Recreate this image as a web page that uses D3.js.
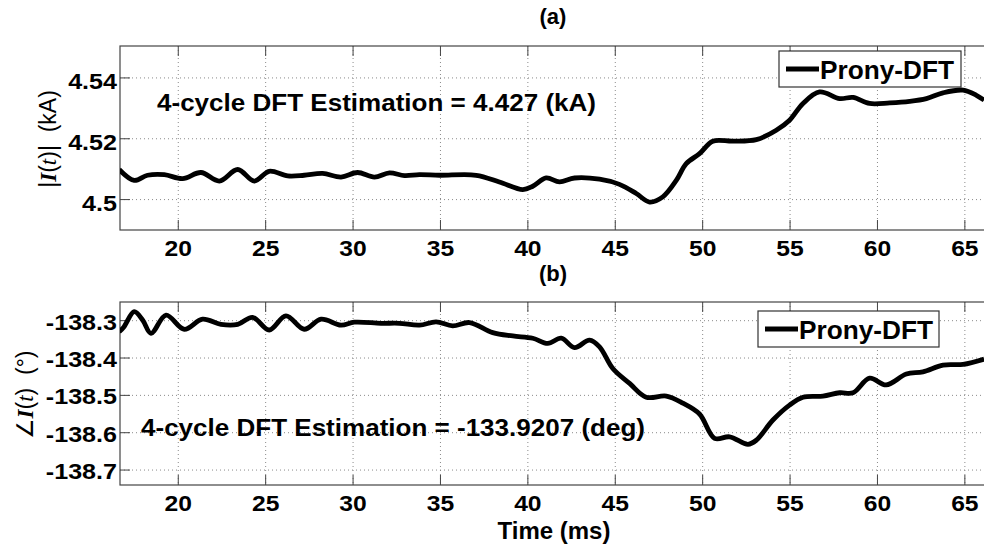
<!DOCTYPE html>
<html>
<head>
<meta charset="utf-8">
<script src="https://cdn.jsdelivr.net/npm/d3@7"></script>
<style>
  body { margin: 0; background: #fff; overflow: hidden; }
  svg { display: block; font-family: "Liberation Sans", Arial, sans-serif; }
  .tick-lbl { font-weight: bold; font-size: 22px; fill: #000; }
</style>
</head>
<body>
<div id="chart"></div>
<script>
// Time axis (ms), shared by both panels
const xTicks = [20, 25, 30, 35, 40, 45, 50, 55, 60, 65];

// (a) magnitude |I(t)| in kA
const timeA = [16.62, 17.48, 18.24, 19.2, 20.25, 21.3, 22.35, 23.4, 24.35, 25.2, 26.26, 27.2, 28.26, 29.31,
  30.26, 31.22, 32.08, 32.94, 33.8, 34.94, 37.04, 38.37, 39.71, 40.28, 41.05, 41.81, 42.67, 44.1, 45.24,
  46.2, 46.96, 47.72, 48.49, 49.06, 49.82, 50.58, 51.73, 53.07, 54.21, 54.97, 55.74, 56.69, 57.84, 58.6,
  59.55, 60.7, 61.84, 62.8, 63.75, 64.9, 65.66, 66.1];
const magA = [4.5099, 4.5063, 4.508, 4.5082, 4.5069, 4.5089, 4.5061, 4.5099, 4.5061, 4.5093, 4.5078, 4.508, 4.5086, 4.5074,
  4.5089, 4.5074, 4.5088, 4.5079, 4.5082, 4.508, 4.508, 4.5058, 4.5033, 4.5044, 4.5071, 4.5058, 4.5071, 4.5067, 4.505,
  4.502, 4.4992, 4.5009, 4.5063, 4.5118, 4.5151, 4.5192, 4.5192, 4.5197, 4.5228, 4.5261, 4.5316, 4.5354, 4.5332, 4.5336,
  4.5316, 4.5318, 4.5323, 4.5332, 4.5351, 4.536, 4.5343, 4.5327];
const yTicksA = [4.5, 4.52, 4.54];
const yTickLabelsA = ["4.5", "4.52", "4.54"];

// (b) phase angle in degrees
const timeB = [16.62, 16.9, 17.48, 17.96, 18.44, 19.3, 20.34, 21.39, 22.44, 23.4, 24.25, 25.2, 26.16, 27.2, 28.17,
  29.31, 30.07, 31.6, 32.65, 33.8, 34.75, 35.7, 36.66, 37.99, 39.14, 40.28, 41.14, 41.91, 42.67, 43.53, 44.1,
  44.86, 45.82, 46.77, 47.92, 48.87, 49.82, 50.68, 51.54, 52.59, 53.07, 54.02, 54.97, 55.74, 56.88, 57.84, 58.6,
  59.55, 60.5, 61.65, 62.6, 63.75, 64.9, 66.1];
const angB = [-138.33, -138.316, -138.276, -138.298, -138.334, -138.285, -138.323, -138.296, -138.31, -138.31, -138.291,
  -138.325, -138.287, -138.323, -138.296, -138.312, -138.304, -138.307, -138.307, -138.312, -138.303, -138.314, -138.305,
  -138.332, -138.341, -138.347, -138.361, -138.347, -138.372, -138.352, -138.37, -138.428, -138.468, -138.505, -138.502,
  -138.521, -138.55, -138.615, -138.611, -138.631, -138.62, -138.566, -138.526, -138.505, -138.502, -138.493, -138.493,
  -138.454, -138.472, -138.443, -138.437, -138.419, -138.417, -138.403];
const yTicksB = [-138.7, -138.6, -138.5, -138.4, -138.3];

const width = 984, height = 546;
const left = 120, right = 994;

const svg = d3.select("#chart").append("svg")
  .attr("width", width)
  .attr("height", height);

const x = d3.scaleLinear().domain([50 / 3, 200 / 3]).range([left, right]);

// stretch bold labels a bit wider, like the source picture
function widen(sel, k) {
  sel.each(function () {
    const w = this.getComputedTextLength();
    d3.select(this).attr("textLength", w * k).attr("lengthAdjust", "spacingAndGlyphs");
  });
}

function drawPanel(cfg) {
  const y = d3.scaleLinear().domain(cfg.yDomain).range([cfg.bottom, cfg.top]);
  const g = svg.append("g");

  // dotted grid
  g.selectAll(".gx").data(xTicks).enter().append("line")
    .attr("x1", d => x(d)).attr("x2", d => x(d))
    .attr("y1", cfg.top).attr("y2", cfg.bottom)
    .attr("stroke", "#8a8a8a").attr("stroke-width", 1)
    .attr("stroke-dasharray", "1,3");
  g.selectAll(".gy").data(cfg.yTicks).enter().append("line")
    .attr("x1", left).attr("x2", right)
    .attr("y1", d => y(d)).attr("y2", d => y(d))
    .attr("stroke", "#8a8a8a").attr("stroke-width", 1)
    .attr("stroke-dasharray", "1,3");

  // inward ticks on all four sides
  const tl = 10;
  g.selectAll(".tb").data(xTicks).enter().append("line")
    .attr("x1", d => x(d)).attr("x2", d => x(d))
    .attr("y1", cfg.bottom).attr("y2", cfg.bottom - tl)
    .attr("stroke", "#444");
  g.selectAll(".tt").data(xTicks).enter().append("line")
    .attr("x1", d => x(d)).attr("x2", d => x(d))
    .attr("y1", cfg.top).attr("y2", cfg.top + tl)
    .attr("stroke", "#444");
  g.selectAll(".tl").data(cfg.yTicks).enter().append("line")
    .attr("x1", left).attr("x2", left + tl)
    .attr("y1", d => y(d)).attr("y2", d => y(d))
    .attr("stroke", "#444");
  g.selectAll(".tr").data(cfg.yTicks).enter().append("line")
    .attr("x1", right).attr("x2", right - tl)
    .attr("y1", d => y(d)).attr("y2", d => y(d))
    .attr("stroke", "#444");

  // box
  g.append("rect")
    .attr("x", left).attr("y", cfg.top)
    .attr("width", right - left).attr("height", cfg.bottom - cfg.top)
    .attr("fill", "none").attr("stroke", "#444").attr("stroke-width", 1.2);

  // tick labels
  const xl = g.selectAll(".xl").data(xTicks).enter().append("text")
    .attr("class", "tick-lbl")
    .attr("x", d => x(d)).attr("y", cfg.bottom + 26)
    .attr("text-anchor", "middle")
    .text(d => d);
  widen(xl, 1.12);
  const yl = g.selectAll(".yl").data(cfg.yTicks).enter().append("text")
    .attr("class", "tick-lbl")
    .attr("x", left - 3).attr("y", d => y(d) + cfg.yLblShift)
    .attr("text-anchor", "end")
    .text((d, i) => cfg.yLabels[i]);
  widen(yl, 1.14);

  // data line
  const pts = cfg.t.map((t, i) => [t, cfg.v[i]]);
  const clipId = "clip" + cfg.id;
  svg.append("clipPath").attr("id", clipId).append("rect")
    .attr("x", left).attr("y", cfg.top)
    .attr("width", right - left).attr("height", cfg.bottom - cfg.top);
  g.append("path")
    .datum(pts)
    .attr("clip-path", `url(#${clipId})`)
    .attr("fill", "none")
    .attr("stroke", "#000")
    .attr("stroke-width", 4.8)
    .attr("stroke-linejoin", "round")
    .attr("d", d3.line().x(d => x(d[0])).y(d => y(d[1])).curve(d3.curveCatmullRom));

  // annotation
  g.append("text")
    .attr("x", cfg.note.x).attr("y", cfg.note.y)
    .attr("font-weight", "bold").attr("font-size", 24)
    .attr("textLength", cfg.note.w).attr("lengthAdjust", "spacingAndGlyphs")
    .text(cfg.note.text);

  // legend
  const lg = cfg.legend;
  g.append("rect")
    .attr("x", lg.x).attr("y", lg.y).attr("width", lg.w).attr("height", lg.h)
    .attr("fill", "#fff").attr("stroke", "#333").attr("stroke-width", 1.2);
  g.append("line")
    .attr("x1", lg.x + 7).attr("x2", lg.x + 40)
    .attr("y1", lg.y + lg.h / 2).attr("y2", lg.y + lg.h / 2)
    .attr("stroke", "#000").attr("stroke-width", 4.8);
  g.append("text")
    .attr("x", lg.x + 41).attr("y", lg.y + 28)
    .attr("font-weight", "bold").attr("font-size", 26)
    .attr("textLength", 134).attr("lengthAdjust", "spacingAndGlyphs")
    .text("Prony-DFT");

  // panel title
  svg.append("text")
    .attr("x", 553).attr("y", cfg.titleY)
    .attr("text-anchor", "middle")
    .attr("font-weight", "bold").attr("font-size", 22)
    .text(cfg.title);
}

drawPanel({
  id: "a", top: 46, bottom: 230, yDomain: [4.49, 4.5505],
  yTicks: yTicksA, yLabels: yTickLabelsA, yLblShift: 11,
  t: timeA, v: magA,
  note: { x: 157, y: 111, w: 439, text: "4-cycle DFT Estimation = 4.427 (kA)" },
  legend: { x: 779, y: 51, w: 182, h: 36 },
  title: "(a)", titleY: 24
});

drawPanel({
  id: "b", top: 302, bottom: 485, yDomain: [-138.74, -138.25],
  yTicks: yTicksB, yLabels: yTicksB.map(d => d.toFixed(1)), yLblShift: 9,
  t: timeB, v: angB,
  note: { x: 141, y: 436, w: 504, text: "4-cycle DFT Estimation = -133.9207 (deg)" },
  legend: { x: 758, y: 311, w: 181, h: 36 },
  title: "(b)", titleY: 281
});

// y-axis labels
const ya = svg.append("text")
  .attr("transform", "translate(56,139) rotate(-90)")
  .attr("text-anchor", "middle").attr("font-size", 23);
ya.append("tspan").text("|");
ya.append("tspan").attr("font-family", "Liberation Serif").attr("font-style", "italic").attr("font-weight", "bold").text("I");
ya.append("tspan").text("(");
ya.append("tspan").attr("font-family", "Liberation Serif").attr("font-style", "italic").text("t");
ya.append("tspan").text(")|\u00a0\u00a0(kA)");

const yb = svg.append("text")
  .attr("transform", "translate(33,395) rotate(-90)")
  .attr("text-anchor", "middle").attr("font-size", 23);
yb.append("tspan").text("\u2220");
yb.append("tspan").attr("font-family", "Liberation Serif").attr("font-style", "italic").attr("font-weight", "bold").text("I");
yb.append("tspan").text("(");
yb.append("tspan").attr("font-family", "Liberation Serif").attr("font-style", "italic").text("t");
yb.append("tspan").text(")\u00a0\u00a0(\u00b0)");

// x-axis title
svg.append("text")
  .attr("x", 554).attr("y", 539)
  .attr("text-anchor", "middle")
  .attr("font-weight", "bold").attr("font-size", 24)
  .text("Time (ms)");
</script>
</body>
</html>
